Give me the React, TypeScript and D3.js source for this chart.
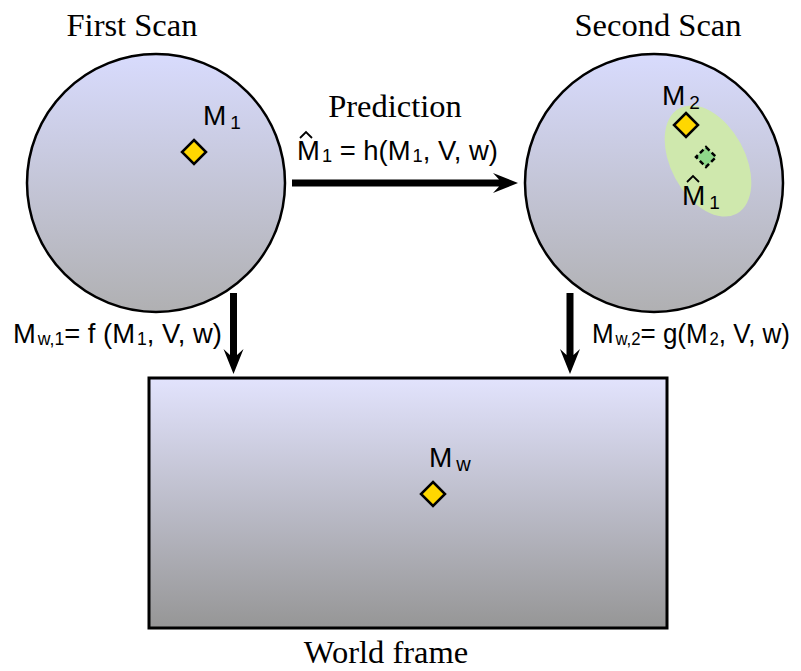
import React from "react";
import * as d3 from "d3";

// Scan frames (circles)
const scanNames = ["First Scan", "Second Scan"];
const scanCx = [156, 654];
const scanCy = [183, 183];
const scanR = [129, 129];
const scanTitleX = [132, 658];
const scanTitleY = [36, 36];

// World frame
const worldName = "World frame";
const worldRect = [149, 378, 667, 628]; // x0, y0, x1, y1
const worldTitleX = 386;
const worldTitleY = 663;

// Landmarks (diamonds)
const markX = [194, 686, 433];
const markY = [152, 125, 494];
const markSize = [12, 12, 12];
const predX = 706;
const predY = 157;

// Labels: base, subscript, x, y
const labelBase = ["M", "M", "M", "M"];
const labelSub = ["1", "2", "1", "w"];
const labelHat = [false, false, true, false];
const labelX = [203, 662, 682, 429];
const labelY = [125, 105, 205, 467];

// Formula texts
const predTitle = "Prediction";
const fLeft = [["M", "w,1"], ["= f (M", "1"], [", V, w)", ""]];
const fRight = [["M", "w,2"], ["= g(M", "2"], [", V, w)", ""]];
const fPred = [["M", "1"], [" = h(M", "1"], [", V, w)", ""]];

const SANS = "'Liberation Sans', Arial, sans-serif";
const SERIF = "'Liberation Serif', 'Times New Roman', serif";

function Arrow({ x1, y1, x2, y2 }: { x1: number; y1: number; x2: number; y2: number }) {
  const ang = Math.atan2(y2 - y1, x2 - x1);
  const len = Math.hypot(x2 - x1, y2 - y1);
  const headL = 25, headW = 10, notch = 6, shaft = 3.5;
  const pts: [number, number][] = [
    [0, -shaft], [len - headL + notch, -shaft], [len - headL, -headW], [len, 0],
    [len - headL, headW], [len - headL + notch, shaft], [0, shaft],
  ];
  const line = d3.line();
  return (
    <path
      d={line(pts) + "Z"}
      fill="#000"
      transform={`translate(${x1},${y1}) rotate(${(ang * 180) / Math.PI})`}
    />
  );
}

function Hat({ x, y }: { x: number; y: number }) {
  const pts: [number, number][] = [[x - 6, y + 4], [x, y - 2], [x + 6, y + 4]];
  return <path d={d3.line()(pts) || ""} fill="none" stroke="#000" strokeWidth={1.8} />;
}

function Formula({ segs, x, y, size, sub, len }: { segs: string[][]; x: number; y: number; size: number; sub: number; len: number }) {
  return (
    <text x={x} y={y} fontFamily={SANS} fontSize={size} fill="#000" textLength={len} lengthAdjust="spacingAndGlyphs">
      {segs.map((s, i) => (
        <React.Fragment key={i}>
          <tspan dy={i === 0 ? 0 : -2}>{s[0]}</tspan>
          {s[1] ? (
            <tspan fontSize={sub} dx={2} dy={2}>{s[1]}</tspan>
          ) : null}
        </React.Fragment>
      ))}
    </text>
  );
}

function Diamond({ x, y, s, fill, dashed }: { x: number; y: number; s: number; fill: string; dashed?: boolean }) {
  const pts: [number, number][] = [[x, y - s], [x + s, y], [x, y + s], [x - s, y]];
  return (
    <path
      d={d3.line()(pts) + "Z"}
      fill={fill}
      stroke="#000"
      strokeWidth={2.5}
      strokeDasharray={dashed ? "5,3" : undefined}
      strokeLinejoin="miter"
    />
  );
}

export default function App() {
  return (
    <svg
      width={801}
      height={671}
      style={{ position: "absolute", left: 0, top: 0, background: "#fff" }}
    >
      <defs>
        <linearGradient id="gc" x1="0" y1="0" x2="0" y2="1">
          <stop offset="0" stopColor="rgb(216,219,253)" />
          <stop offset="1" stopColor="rgb(176,176,178)" />
        </linearGradient>
        <linearGradient id="gr" x1="0" y1="0" x2="0" y2="1">
          <stop offset="0" stopColor="rgb(226,227,253)" />
          <stop offset="1" stopColor="rgb(150,150,150)" />
        </linearGradient>
      </defs>

      {scanNames.map((n, i) => (
        <g key={n}>
          <circle cx={scanCx[i]} cy={scanCy[i]} r={scanR[i]} fill="url(#gc)" stroke="#000" strokeWidth={2.5} />
          <text x={scanTitleX[i]} y={scanTitleY[i]} textAnchor="middle" fontFamily={SERIF} fontSize={32.5}>
            {n}
          </text>
        </g>
      ))}

      <rect
        x={worldRect[0]}
        y={worldRect[1]}
        width={worldRect[2] - worldRect[0]}
        height={worldRect[3] - worldRect[1]}
        fill="url(#gr)"
        stroke="#000"
        strokeWidth={3}
      />
      <text x={worldTitleX} y={worldTitleY} textAnchor="middle" fontFamily={SERIF} fontSize={32.5}>
        {worldName}
      </text>

      {/* uncertainty ellipse */}
      <ellipse cx={708} cy={161} rx={60} ry={37} transform="rotate(61.5,708,161)" fill="#cfe8ad" />

      <Diamond x={markX[0]} y={markY[0]} s={markSize[0]} fill="#ffd700" />
      <Diamond x={markX[1]} y={markY[1]} s={markSize[1]} fill="#ffd700" />
      <Diamond x={predX} y={predY} s={10} fill="#8fd88a" dashed />
      <Diamond x={markX[2]} y={markY[2]} s={markSize[2]} fill="#ffd700" />

      {labelBase.map((b, i) => (
        <g key={i}>
          <text x={labelX[i]} y={labelY[i]} fontFamily={SANS} fontSize={28}>
            <tspan>{b}</tspan>
            <tspan fontSize={i === 3 ? 20 : 19} dx={4} dy={4}>{labelSub[i]}</tspan>
          </text>
          {labelHat[i] ? <Hat x={labelX[i] + 11} y={labelY[i] - 27} /> : null}
        </g>
      ))}

      {/* arrows */}
      <Arrow x1={292} y1={183} x2={518} y2={183} />
      <Arrow x1={233.5} y1={293} x2={233.5} y2={374} />
      <Arrow x1={570} y1={293} x2={570} y2={374} />

      <text x={395} y={117} textAnchor="middle" fontFamily={SERIF} fontSize={32.5}>
        {predTitle}
      </text>
      <Formula segs={fPred} x={297} y={160} size={27} sub={18} len={201} />
      <Hat x={306} y={134} />
      <Formula segs={fLeft} x={13} y={343} size={28} sub={18} len={209} />
      <Formula segs={fRight} x={592} y={343} size={28} sub={18} len={198} />
    </svg>
  );
}
